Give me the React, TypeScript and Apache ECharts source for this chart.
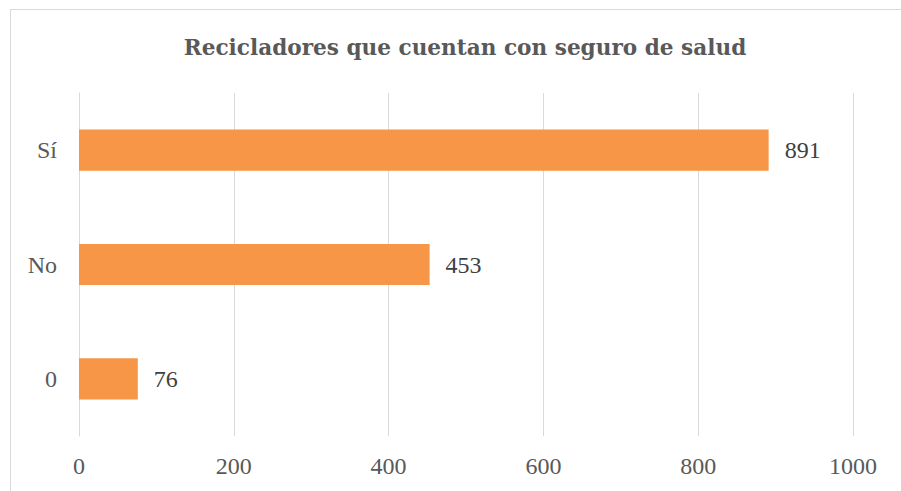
import React, { useEffect, useRef } from "react";
import * as echarts from "echarts";

const categories = ["0", "No", "Sí"];
const values = [76, 453, 891];
const xTicks = [0, 200, 400, 600, 800, 1000];
const titleText = "Recicladores que cuentan con seguro de salud";

export default function App() {
  const ref = useRef<HTMLDivElement>(null);
  useEffect(() => {
    const chart = echarts.init(ref.current!, null, { renderer: "svg" });
    const font = "'Liberation Serif', 'DejaVu Serif', serif";
    chart.setOption({
      animation: false,
      backgroundColor: "#ffffff",
      title: {
        text: titleText,
        left: 460,
        textAlign: "center",
        top: 31,
        textStyle: { fontFamily: "'DejaVu Serif', serif", fontWeight: "bold", fontSize: 21.6, color: "#595959" },
      },
      graphic: [
        {
          type: "rect",
          shape: { x: 10.5, y: 9.5, width: 900, height: 500 },
          style: { fill: "none", stroke: "#D9D9D9", lineWidth: 1 },
          silent: true,
        },
      ],
      grid: { left: 79, right: 48, top: 93, bottom: 55 },
      xAxis: {
        type: "value",
        min: xTicks[0],
        max: xTicks[xTicks.length - 1],
        interval: 200,
        axisLine: { show: false },
        axisTick: { show: false },
        axisLabel: { fontFamily: font, fontSize: 24, color: "#595959", margin: 18, formatter: (v: number) => String(v) },
        splitLine: { show: true, lineStyle: { color: "#D9D9D9", width: 1 } },
      },
      yAxis: {
        type: "category",
        data: categories,
        axisLine: { show: true, lineStyle: { color: "#D9D9D9", width: 1 } },
        axisTick: { show: false },
        axisLabel: { fontFamily: font, fontSize: 24, color: "#595959", margin: 22 },
      },
      series: [
        {
          type: "bar",
          data: values,
          barCategoryGap: "64%",
          itemStyle: { color: "#F79646" },
          label: {
            show: true,
            position: "right",
            distance: 16,
            fontFamily: font,
            fontSize: 24,
            color: "#404040",
          },
        },
      ],
    });
    return () => chart.dispose();
  }, []);
  return <div ref={ref} style={{ width: 901, height: 491, position: "absolute", left: 0, top: 0 }} />;
}
